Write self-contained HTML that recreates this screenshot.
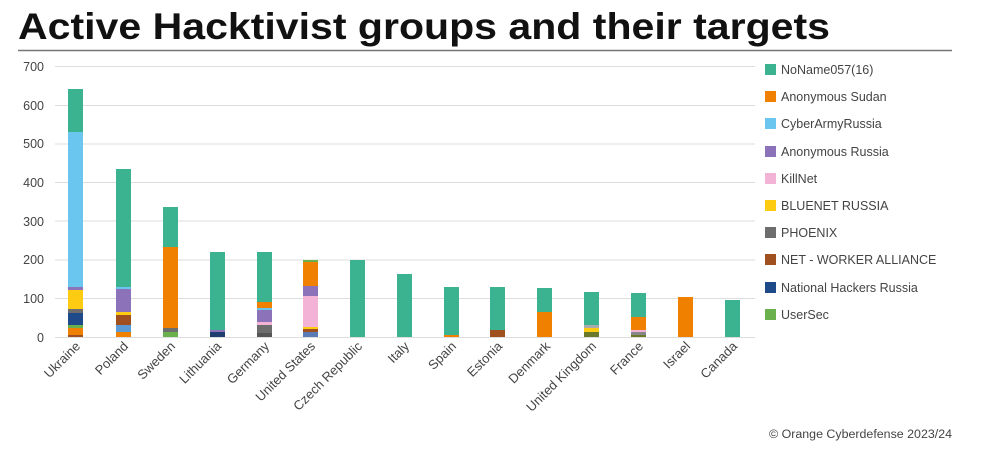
<!DOCTYPE html>
<html><head><meta charset="utf-8"><style>
html,body{margin:0;padding:0;background:#fff;width:985px;height:454px;overflow:hidden}
svg{display:block;font-family:"Liberation Sans",Arial,sans-serif}
</style></head><body>
<svg width="985" height="454" viewBox="0 0 985 454">
<text x="18" y="39" font-size="37" font-weight="bold" fill="#111" textLength="812" lengthAdjust="spacingAndGlyphs">Active Hacktivist groups and their targets</text>
<line x1="18" y1="50.5" x2="952" y2="50.5" stroke="#777" stroke-width="1.5"/>
<g stroke="#ddd" stroke-width="1">
<line x1="55" y1="66.5" x2="755" y2="66.5"/><line x1="55" y1="105.5" x2="755" y2="105.5"/>
<line x1="55" y1="144" x2="755" y2="144"/><line x1="55" y1="182.5" x2="755" y2="182.5"/>
<line x1="55" y1="221" x2="755" y2="221"/><line x1="55" y1="260" x2="755" y2="260"/>
<line x1="55" y1="298.5" x2="755" y2="298.5"/><line x1="55" y1="337.5" x2="755" y2="337.5"/>
</g>
<g font-size="12.5" fill="#444" text-anchor="end">
<text x="44" y="71">700</text><text x="44" y="110">600</text><text x="44" y="148">500</text>
<text x="44" y="187">400</text><text x="44" y="226">300</text><text x="44" y="264">200</text>
<text x="44" y="303">100</text><text x="44" y="342">0</text>
</g>
<g>
<rect x="68" y="89" width="15" height="43" fill="#3bb391"/>
<rect x="68" y="132" width="15" height="155" fill="#6ac6ee"/>
<rect x="68" y="287" width="15" height="3" fill="#8c72b8"/>
<rect x="68" y="290" width="15" height="19" fill="#fdcc12"/>
<rect x="68" y="309" width="15" height="4" fill="#6d6d6d"/>
<rect x="68" y="313" width="15" height="12" fill="#1f4a8a"/>
<rect x="68" y="325" width="15" height="3" fill="#6ab04c"/>
<rect x="68" y="328" width="15" height="7" fill="#f08000"/>
<rect x="68" y="335" width="15" height="2" fill="#a0501e"/>
<rect x="116" y="169" width="15" height="118" fill="#3bb391"/>
<rect x="116" y="287" width="15" height="2" fill="#6ac6ee"/>
<rect x="116" y="289" width="15" height="23" fill="#8c72b8"/>
<rect x="116" y="312" width="15" height="3" fill="#fdcc12"/>
<rect x="116" y="315" width="15" height="10" fill="#a0501e"/>
<rect x="116" y="325" width="15" height="7" fill="#5b9bd5"/>
<rect x="116" y="332" width="15" height="5" fill="#f08000"/>
<rect x="163" y="207" width="15" height="40" fill="#3bb391"/>
<rect x="163" y="247" width="15" height="81" fill="#f08000"/>
<rect x="163" y="328" width="15" height="4" fill="#6d6d6d"/>
<rect x="163" y="332" width="15" height="5" fill="#6ab04c"/>
<rect x="210" y="252" width="15" height="78" fill="#3bb391"/>
<rect x="210" y="330" width="15" height="2" fill="#8c72b8"/>
<rect x="210" y="332" width="15" height="5" fill="#1f3d6e"/>
<rect x="257" y="252" width="15" height="50" fill="#3bb391"/>
<rect x="257" y="302" width="15" height="6" fill="#f08000"/>
<rect x="257" y="308" width="15" height="2" fill="#6ac6ee"/>
<rect x="257" y="310" width="15" height="12" fill="#8c72b8"/>
<rect x="257" y="322" width="15" height="3" fill="#f3b3d6"/>
<rect x="257" y="325" width="15" height="8" fill="#6d6d6d"/>
<rect x="257" y="333" width="15" height="4" fill="#555"/>
<rect x="303" y="260" width="15" height="2" fill="#6ab04c"/>
<rect x="303" y="262" width="15" height="24" fill="#f08000"/>
<rect x="303" y="286" width="15" height="10" fill="#8c72b8"/>
<rect x="303" y="296" width="15" height="31" fill="#f3b3d6"/>
<rect x="303" y="327" width="15" height="2" fill="#fdcc12"/>
<rect x="303" y="329" width="15" height="3" fill="#a0501e"/>
<rect x="303" y="332" width="15" height="5" fill="#5b7bb5"/>
<rect x="350" y="260" width="15" height="77" fill="#3bb391"/>
<rect x="397" y="274" width="15" height="63" fill="#3bb391"/>
<rect x="444" y="287" width="15" height="48" fill="#3bb391"/>
<rect x="444" y="335" width="15" height="2" fill="#f08000"/>
<rect x="490" y="287" width="15" height="43" fill="#3bb391"/>
<rect x="490" y="330" width="15" height="7" fill="#a0501e"/>
<rect x="537" y="288" width="15" height="24" fill="#3bb391"/>
<rect x="537" y="312" width="15" height="25" fill="#f08000"/>
<rect x="584" y="292" width="15" height="33" fill="#3bb391"/>
<rect x="584" y="325" width="15" height="3" fill="#aaa"/>
<rect x="584" y="328" width="15" height="4" fill="#fdcc12"/>
<rect x="584" y="332" width="15" height="5" fill="#6b7a2a"/>
<rect x="631" y="293" width="15" height="24" fill="#3bb391"/>
<rect x="631" y="317" width="15" height="13" fill="#f08000"/>
<rect x="631" y="330" width="15" height="2" fill="#f3b3d6"/>
<rect x="631" y="332" width="15" height="3" fill="#888"/>
<rect x="631" y="335" width="15" height="2" fill="#6b7a2a"/>
<rect x="678" y="297" width="15" height="40" fill="#f08000"/>
<rect x="725" y="300" width="15" height="37" fill="#3bb391"/>
</g>
<g font-size="13" fill="#444" text-anchor="end">
<text transform="translate(81,347) rotate(-45)">Ukraine</text>
<text transform="translate(129,347) rotate(-45)">Poland</text>
<text transform="translate(176,347) rotate(-45)">Sweden</text>
<text transform="translate(222,347) rotate(-45)">Lithuania</text>
<text transform="translate(270,347) rotate(-45)">Germany</text>
<text transform="translate(316,347) rotate(-45)">United States</text>
<text transform="translate(363,347) rotate(-45)">Czech Republic</text>
<text transform="translate(410,347) rotate(-45)">Italy</text>
<text transform="translate(457,347) rotate(-45)">Spain</text>
<text transform="translate(503,347) rotate(-45)">Estonia</text>
<text transform="translate(551,347) rotate(-45)">Denmark</text>
<text transform="translate(597,347) rotate(-45)">United Kingdom</text>
<text transform="translate(644,347) rotate(-45)">France</text>
<text transform="translate(691,347) rotate(-45)">Israel</text>
<text transform="translate(738,347) rotate(-45)">Canada</text>
</g>
<g font-size="12.5" fill="#444">
<rect x="765" y="64" width="11" height="11" fill="#3bb391"/><text x="781" y="74">NoName057(16)</text>
<rect x="765" y="91" width="11" height="11" fill="#f08000"/><text x="781" y="101">Anonymous Sudan</text>
<rect x="765" y="118" width="11" height="11" fill="#6ac6ee"/><text x="781" y="128">CyberArmyRussia</text>
<rect x="765" y="146" width="11" height="11" fill="#8c72b8"/><text x="781" y="156">Anonymous Russia</text>
<rect x="765" y="173" width="11" height="11" fill="#f3b3d6"/><text x="781" y="183">KillNet</text>
<rect x="765" y="200" width="11" height="11" fill="#fdcc12"/><text x="781" y="210">BLUENET RUSSIA</text>
<rect x="765" y="227" width="11" height="11" fill="#6d6d6d"/><text x="781" y="237">PHOENIX</text>
<rect x="765" y="254" width="11" height="11" fill="#a0501e"/><text x="781" y="264">NET - WORKER ALLIANCE</text>
<rect x="765" y="282" width="11" height="11" fill="#1f4a8a"/><text x="781" y="292">National Hackers Russia</text>
<rect x="765" y="309" width="11" height="11" fill="#6ab04c"/><text x="781" y="319">UserSec</text>
</g>
<text x="769" y="438" font-size="11.5" fill="#444" textLength="183" lengthAdjust="spacingAndGlyphs">© Orange Cyberdefense 2023/24</text>
</svg>
</body></html>
